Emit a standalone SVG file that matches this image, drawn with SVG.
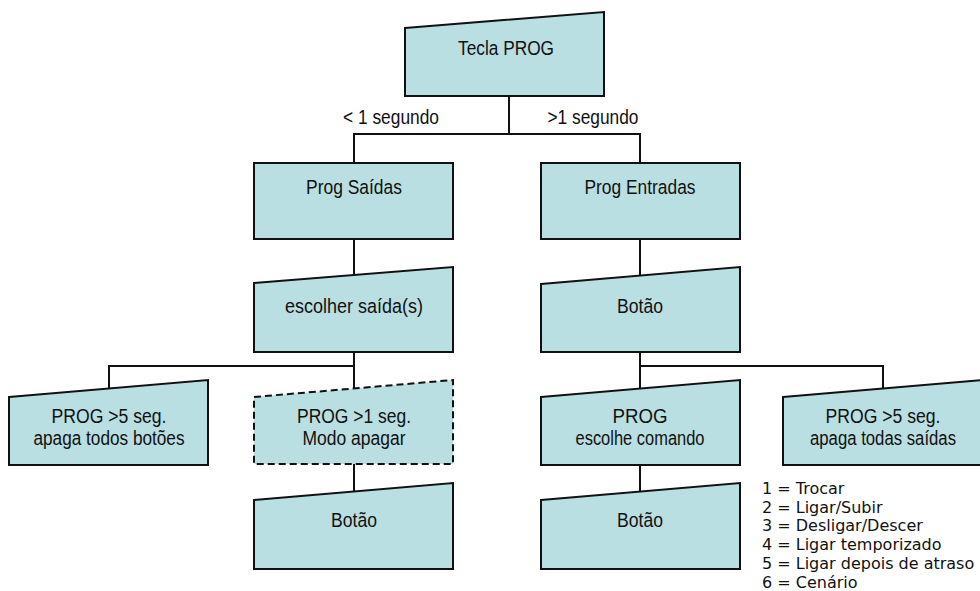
<svg xmlns="http://www.w3.org/2000/svg" width="980" height="591" viewBox="0 0 980 591">
<style>
.box{fill:#BADFE2;stroke:#111;stroke-width:2;stroke-linejoin:miter}
.dash{stroke-dasharray:7 4}
.t{font-family:"Liberation Sans",Arial,sans-serif;font-size:20.5px;fill:#111;text-anchor:middle}
.t2{font-family:"Liberation Sans",Arial,sans-serif;font-size:19.5px;fill:#111;text-anchor:middle}
.lbl{font-family:"Liberation Sans",Arial,sans-serif;font-size:20.5px;fill:#111;text-anchor:middle}
.leg{font-family:"DejaVu Sans",Verdana,sans-serif;font-size:16px;fill:#111}
.conn line{stroke:#111;stroke-width:2}
</style>
<rect width="980" height="591" fill="#fff"/>
<g id="connectors" class="conn">
<line x1="509" y1="96" x2="509" y2="134"/>
<line x1="353" y1="134" x2="641" y2="134"/>
<line x1="354" y1="134" x2="354" y2="163"/>
<line x1="640" y1="134" x2="640" y2="163"/>
<line x1="354" y1="239" x2="354" y2="275"/>
<line x1="640" y1="239" x2="640" y2="276"/>
<line x1="354" y1="352" x2="354" y2="389"/>
<line x1="108" y1="366" x2="355" y2="366"/>
<line x1="109" y1="366" x2="109" y2="389"/>
<line x1="640" y1="352" x2="640" y2="389"/>
<line x1="639" y1="366" x2="884" y2="366"/>
<line x1="883" y1="366" x2="883" y2="389"/>
<line x1="354" y1="464" x2="354" y2="492"/>
<line x1="640" y1="465" x2="640" y2="492"/>
</g>
<g id="tecla-prog">
<polygon class="box" points="405,28 604,12 604,96 405,96"/>
<text class="t" x="506" y="55" textLength="96" lengthAdjust="spacingAndGlyphs">Tecla PROG</text>
</g>
<g id="labels">
<text class="lbl" x="391" y="124" textLength="96" lengthAdjust="spacingAndGlyphs">&lt; 1 segundo</text>
<text class="lbl" x="593" y="124" textLength="91" lengthAdjust="spacingAndGlyphs">&gt;1 segundo</text>
</g>
<g id="prog-saidas">
<rect class="box" x="254" y="163" width="199" height="76"/>
<text class="t" x="354" y="194" textLength="96" lengthAdjust="spacingAndGlyphs">Prog Saídas</text>
</g>
<g id="prog-entradas">
<rect class="box" x="541" y="163" width="199" height="76"/>
<text class="t" x="640" y="194" textLength="111" lengthAdjust="spacingAndGlyphs">Prog Entradas</text>
</g>
<g id="escolher-saidas">
<polygon class="box" points="254,283 453,267 453,352 254,352"/>
<text class="t" x="354" y="313" textLength="138" lengthAdjust="spacingAndGlyphs">escolher saída(s)</text>
</g>
<g id="botao-entradas">
<polygon class="box" points="541,284 740,267 740,352 541,352"/>
<text class="t" x="640" y="313" textLength="46" lengthAdjust="spacingAndGlyphs">Botão</text>
</g>
<g id="apaga-botoes">
<polygon class="box" points="9,397 208,380 208,465 9,465"/>
<text class="t2" x="109" y="423" textLength="115" lengthAdjust="spacingAndGlyphs">PROG &gt;5 seg.</text>
<text class="t2" x="109" y="445" textLength="151" lengthAdjust="spacingAndGlyphs">apaga todos botões</text>
</g>
<g id="modo-apagar">
<polygon class="box dash" points="254,397 453,380 453,464 254,464"/>
<text class="t2" x="354" y="423" textLength="114" lengthAdjust="spacingAndGlyphs">PROG &gt;1 seg.</text>
<text class="t2" x="354" y="445" textLength="103" lengthAdjust="spacingAndGlyphs">Modo apagar</text>
</g>
<g id="escolhe-comando">
<polygon class="box" points="541,397 740,380 740,465 541,465"/>
<text class="t2" x="640" y="423" textLength="55" lengthAdjust="spacingAndGlyphs">PROG</text>
<text class="t2" x="640" y="445" textLength="129" lengthAdjust="spacingAndGlyphs">escolhe comando</text>
</g>
<g id="apaga-saidas">
<polygon class="box" points="783,397 982,380 982,465 783,465"/>
<text class="t2" x="883" y="423" textLength="115" lengthAdjust="spacingAndGlyphs">PROG &gt;5 seg.</text>
<text class="t2" x="883" y="445" textLength="146" lengthAdjust="spacingAndGlyphs">apaga todas saídas</text>
</g>
<g id="botao-saidas">
<polygon class="box" points="254,500 453,483 453,569 254,569"/>
<text class="t" x="354" y="527" textLength="46" lengthAdjust="spacingAndGlyphs">Botão</text>
</g>
<g id="botao-comando">
<polygon class="box" points="541,500 740,483 740,569 541,569"/>
<text class="t" x="640" y="527" textLength="46" lengthAdjust="spacingAndGlyphs">Botão</text>
</g>
<g id="legenda">
<text class="leg" x="762" y="494">1 = Trocar</text>
<text class="leg" x="762" y="512.7">2 = Ligar/Subir</text>
<text class="leg" x="762" y="531.4">3 = Desligar/Descer</text>
<text class="leg" x="762" y="550.1">4 = Ligar temporizado</text>
<text class="leg" x="762" y="568.8">5 = Ligar depois de atraso</text>
<text class="leg" x="762" y="587.5">6 = Cenário</text>
</g>
</svg>
